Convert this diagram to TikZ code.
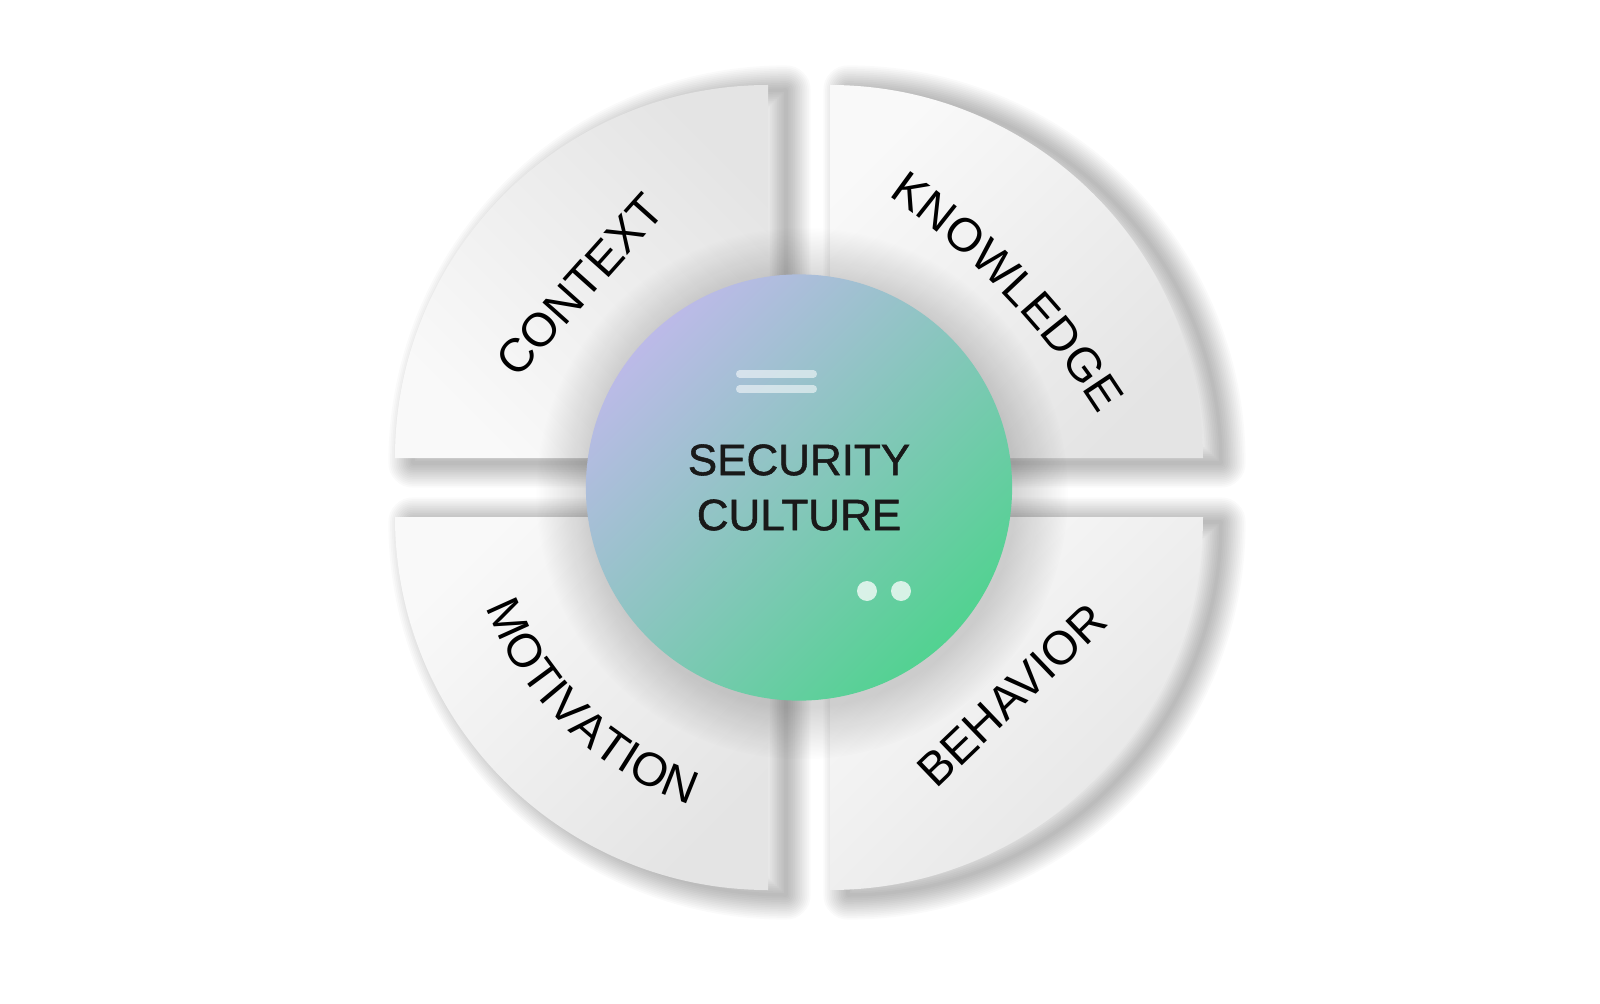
\documentclass[tikz,border=0pt]{standalone}
\usepackage{fontspec}
\setmainfont{Liberation Sans}
\newfontfamily\corefont[BoldFont={Liberation Sans}, BoldFeatures={FakeBold=1.2}]{Liberation Sans}
\usetikzlibrary{fadings, decorations.text}

\definecolor{lavender}{RGB}{188,186,232}
\definecolor{tealgrey}{RGB}{160,195,205}
\definecolor{mint}{RGB}{82,210,145}
\definecolor{paperlight}{RGB}{249,249,249}
\definecolor{paperdark}{RGB}{228,228,228}

\newcommand\quadfont{\fontsize{13.4}{16}\selectfont}

\tikzstyle{quarter} = [top color=paperlight, bottom color=paperdark]
\tikzstyle{quartershadow} = [draw=black, draw opacity=0.02, line join=round]
\tikzstyle{core} = [circle, minimum size=4.26cm, inner sep=0pt, top color=lavender, middle color=tealgrey, bottom color=mint, shading angle=45, align=center, text=black!90, font=\corefont\bfseries\fontsize{12.5}{15.65}\selectfont]
\tikzstyle{coreshadow} = [fill=black, opacity=0.16, path fading=circle with fuzzy edge 20 percent]
\tikzstyle{quadtext} = [inner sep=0pt, text=black, font=\quadfont]
\tikzstyle{bar} = [white, opacity=0.55, line width=2pt, line cap=round]
\tikzstyle{dot} = [fill=white, opacity=0.75]
\tikzstyle{arctext} = [decorate, decoration={text along path, text align=center}]

\begin{document}
\begin{tikzpicture}[x=0.01cm, y=0.01cm]
\useasboundingbox (-799,-515.5) rectangle (801,487.5);
\fill[white] (-799,-515.5) rectangle (801,487.5);

% four quarters round the core, each with a soft shadow
\foreach \cx/\cy/\a/\sa in {-31/29.5/90/135, 31/29.5/0/45, -31/-29.5/180/45, 31/-29.5/270/45} {
  \foreach \w in {1,2,...,14}
    \draw[quartershadow, line width=\w pt] ([shift={(18,-5)}]\cx,\cy) -- ++(\a:373) arc[start angle=\a, delta angle=90, radius=373] -- cycle;
  \shade[quarter, shading angle=\sa] (\cx,\cy) -- ++(\a:373) arc[start angle=\a, delta angle=90, radius=373] -- cycle;
}

\node (context) [quadtext, rotate=48.2] at (-219,202.5) {CONTEXT};
\node (behavior) [quadtext, rotate=43.8] at (213,-207.5) {BEHAVIOR};
\path[arctext, decoration={text={|\quadfont|KNOWLEDGE}}] (-351,-341) ++(63.8:771) arc[start angle=63.8, end angle=23.8, radius=771];
\path[arctext, decoration={text={|\quadfont|MOTIVATION}}] (181:335) arc[start angle=181, end angle=271, radius=335];

\fill[coreshadow] (3,-6) circle (266);
\node (core) [core] at (0,0) {SECURITY\\CULTURE};

\draw[bar] (-59.5,113.5) -- (14.5,113.5);
\draw[bar] (-59.5,98.5) -- (14.5,98.5);
\fill[dot] (68,-103.5) circle (10);
\fill[dot] (102,-103.5) circle (10);
\end{tikzpicture}
\end{document}
